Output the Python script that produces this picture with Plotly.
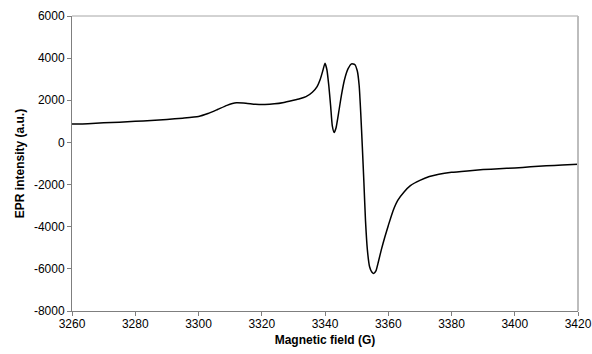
import plotly.graph_objects as go

field_G = [3260, 3265, 3270, 3275, 3280, 3285, 3290, 3295, 3300, 3303, 3306, 3309, 3312,
           3315, 3318, 3321, 3324, 3327, 3330, 3332, 3334, 3336, 3337.5, 3338.5, 3339.3,
           3340, 3340.6, 3341.2, 3341.8, 3342.3, 3342.9, 3343.5, 3344.3, 3345.2, 3346.2,
           3347.3, 3348.4, 3349.4, 3350.2, 3350.8, 3351.3, 3351.8, 3352.3, 3352.8, 3353.4,
           3354.1, 3354.8, 3355.4, 3356.1, 3356.9, 3357.8, 3358.9, 3360, 3361.5, 3363,
           3365, 3367, 3370, 3373, 3376, 3380, 3385, 3390, 3395, 3400, 3405, 3410, 3415, 3420]
epr_intensity = [870, 890, 930, 960, 1000, 1040, 1090, 1150, 1230, 1370, 1560, 1760, 1880,
                 1860, 1810, 1800, 1830, 1900, 2000, 2070, 2170, 2380, 2650, 3000, 3400,
                 3760, 3450, 2700, 1700, 800, 470, 700, 1400, 2250, 3000,
                 3500, 3730, 3700, 3400, 2700, 1400, -200, -1900, -3700, -5100,
                 -5900, -6150, -6220, -6100, -5650, -5100, -4500, -3950, -3250, -2750,
                 -2350, -2050, -1800, -1620, -1510, -1420, -1350, -1290, -1250, -1210,
                 -1160, -1110, -1070, -1040]

x_ticks = [3260, 3280, 3300, 3320, 3340, 3360, 3380, 3400, 3420]
y_ticks = [6000, 4000, 2000, 0, -2000, -4000, -6000, -8000]

font_family = "Liberation Sans, Arial, sans-serif"

fig = go.Figure()
fig.add_trace(go.Scatter(
    x=field_G, y=epr_intensity, mode="lines",
    line=dict(color="black", width=1.5, shape="spline", smoothing=0.5),
    showlegend=False, hoverinfo="skip"))

fig.update_layout(
    width=592, height=354,
    margin=dict(l=72, r=14, t=16, b=43, autoexpand=False),
    paper_bgcolor="white", plot_bgcolor="white",
    font=dict(family=font_family, size=12, color="black"),
    xaxis=dict(
        range=[3260, 3420], tickvals=x_ticks, ticktext=[str(v) for v in x_ticks],
        showgrid=False, zeroline=False, showline=True, linecolor="#7f7f7f", linewidth=1,
        ticks="outside", ticklen=4, tickcolor="#7f7f7f", automargin=False,
        ticklabelstandoff=-2,
        title=dict(text="<b>Magnetic field (G)</b>", standoff=5, font=dict(size=12)),
    ),
    yaxis=dict(
        range=[-8000, 6000], tickvals=y_ticks, ticktext=[str(v) for v in y_ticks],
        showgrid=False, zeroline=False, showline=True, linecolor="#7f7f7f", linewidth=1,
        ticks="outside", ticklen=4, tickcolor="#7f7f7f", automargin=False,
        title=dict(text="<b>EPR intensity (a.u.)</b>", standoff=6, font=dict(size=12)),
    ),
    shapes=[
        dict(type="line", xref="paper", yref="paper", x0=0, x1=1, y0=1, y1=1,
             line=dict(color="#a6a6a6", width=1)),
        dict(type="line", xref="paper", yref="paper", x0=1, x1=1, y0=0, y1=1,
             line=dict(color="#bdbdbd", width=2)),
    ],
)

fig.write_html(
    "out.html",
    config={"displayModeBar": False, "staticPlot": True},
    post_script="document.body.style.margin='0';document.body.style.overflow='hidden';",
)
